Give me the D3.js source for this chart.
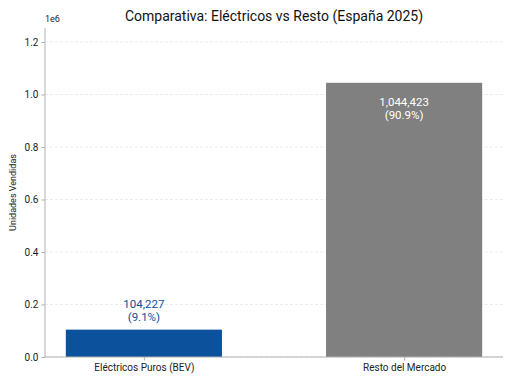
<!DOCTYPE html>
<html>
<head>
<meta charset="utf-8">
<script src="https://cdnjs.cloudflare.com/ajax/libs/d3/7.8.5/d3.min.js"></script>
<style>
  body { margin: 0; background: #fff; }
  text { font-family: Roboto, "Open Sans", sans-serif; }
</style>
</head>
<body>
<script>
  // data
  var categories = ["Eléctricos Puros (BEV)", "Resto del Mercado"];
  var units = [104227, 1044423];
  var shares = ["9.1%", "90.9%"];
  var barColors = ["#0b519c", "#808080"];
  var labelColors = ["#0b519c", "#ffffff"];
  var yTicks = [0, 0.2, 0.4, 0.6, 0.8, 1.0, 1.2];

  var W = 512, H = 384;
  // plot box (window.top is reserved, so use other names)
  var pLeft = 45, pRight = 503, pTop = 28, pBottom = 357;

  var svg = d3.select("body").append("svg")
    .attr("width", W).attr("height", H);

  // x in category units, like matplotlib bars (width 0.6)
  var x = d3.scaleLinear().domain([-0.38, 1.38]).range([pLeft, pRight]);
  var y = d3.scaleLinear().domain([0, 1.2533]).range([pBottom, pTop]);

  // grid
  svg.append("g").selectAll("line")
    .data(yTicks)
    .enter().append("line")
    .attr("x1", pLeft).attr("x2", pRight)
    .attr("y1", function(d) { return y(d); })
    .attr("y2", function(d) { return y(d); })
    .attr("stroke", "#e3e3e3")
    .attr("stroke-width", 0.7)
    .attr("stroke-dasharray", "3,2");

  // bars
  svg.append("g").selectAll("rect")
    .data(units)
    .enter().append("rect")
    .attr("x", function(d, i) { return x(i - 0.3); })
    .attr("width", function() { return x(0.3) - x(-0.3); })
    .attr("y", function(d) { return y(d / 1e6); })
    .attr("height", function(d) { return pBottom - y(d / 1e6); })
    .attr("fill", function(d, i) { return barColors[i]; });

  // value labels
  var fmt = d3.format(",");
  units.forEach(function(d, i) {
    var inside = i === 1;
    var yy = inside ? y(d / 1e6) + 23 : y(d / 1e6) - 22;
    var t = svg.append("text")
      .attr("x", x(i)).attr("y", yy)
      .attr("text-anchor", "middle")
      .attr("font-size", 11.5)
      .attr("fill", labelColors[i]);
    t.append("tspan").attr("x", x(i)).text(fmt(d));
    t.append("tspan").attr("x", x(i)).attr("dy", 13).text("(" + shares[i] + ")");
  });

  // axes
  var yAxis = svg.append("g")
    .attr("transform", "translate(" + pLeft + ",0)")
    .call(d3.axisLeft(y).tickValues(yTicks).tickFormat(d3.format(".1f")).tickSize(3.5).tickPadding(3));
  var xAxis = svg.append("g")
    .attr("transform", "translate(0," + pBottom + ")")
    .call(d3.axisBottom(x).tickValues([0, 1]).tickFormat(function(d) { return categories[d]; }).tickSize(3.5).tickPadding(3));

  [yAxis, xAxis].forEach(function(g) {
    g.select(".domain").attr("stroke", "#b0b0b0").attr("stroke-width", 1);
    g.selectAll(".tick line").attr("stroke", "#b0b0b0");
    g.selectAll(".tick text").attr("fill", "#222").attr("font-size", 10)
      .attr("font-family", "Roboto, sans-serif");
  });
  yAxis.select(".domain").attr("d", "M0," + pTop + "V" + pBottom);
  xAxis.select(".domain").attr("d", "M" + pLeft + ",0H" + pRight);

  // offset text
  svg.append("text")
    .attr("x", pLeft).attr("y", 22)
    .attr("font-size", 9).attr("fill", "#222")
    .text("1e6");

  // title
  svg.append("text")
    .attr("x", (pLeft + pRight) / 2).attr("y", 21)
    .attr("text-anchor", "middle")
    .attr("font-size", 14).attr("fill", "#111")
    .text("Comparativa: Eléctricos vs Resto (España 2025)");

  // y label
  svg.append("text")
    .attr("transform", "translate(16," + (pTop + pBottom) / 2 + ") rotate(-90)")
    .attr("text-anchor", "middle")
    .attr("font-size", 9).attr("fill", "#222")
    .text("Unidades Vendidas");
</script>
</body>
</html>
